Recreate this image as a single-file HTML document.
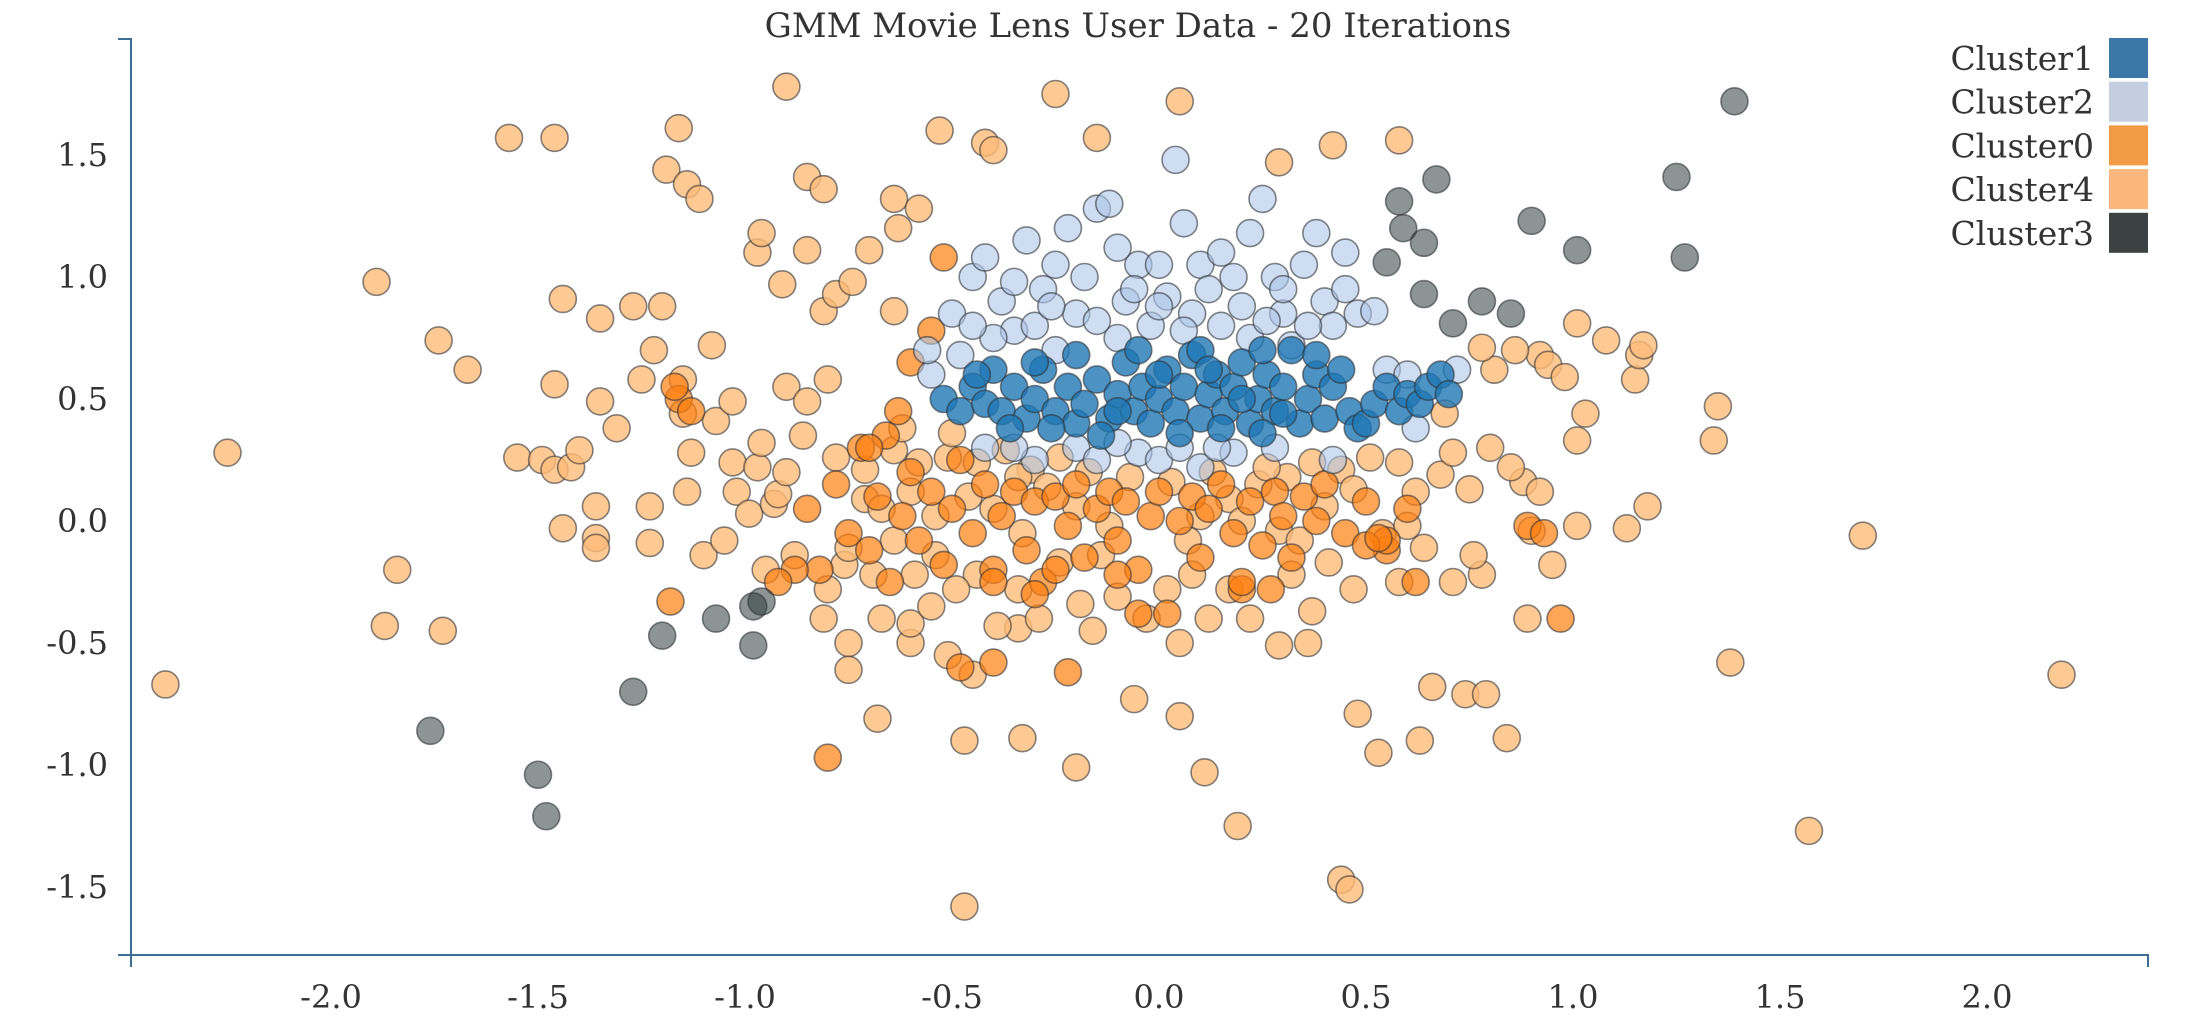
<!DOCTYPE html>
<html><head><meta charset="utf-8">
<style>
html,body{margin:0;padding:0;background:#fff;}
svg{display:block;}
text{font-family:"DejaVu Serif","Liberation Serif",serif;fill:#333;}
</style></head>
<body>
<svg id="chart" width="2196" height="1016">
<text x="1138" y="37" font-size="34" text-anchor="middle">GMM Movie Lens User Data - 20 Iterations</text>
<g id="axes"></g>
<g id="marks"></g>
<g id="legend"></g>
</svg>
<script>
const xTicks = [-2.0,-1.5,-1.0,-0.5,0.0,0.5,1.0,1.5,2.0];
const yTicks = [1.5,1.0,0.5,0.0,-0.5,-1.0,-1.5];
const legendLabels = ["Cluster1","Cluster2","Cluster0","Cluster4","Cluster3"];
const cluster3 = [[1.39,1.72],[0.67,1.40],[0.58,1.31],[0.59,1.20],[0.64,1.14],[0.55,1.06],[1.25,1.41],[1.27,1.08],[0.90,1.23],[1.01,1.11],[0.64,0.93],[0.78,0.90],[0.85,0.85],[0.71,0.81],[-1.20,-0.47],[-1.07,-0.40],[-0.98,-0.35],[-0.96,-0.33],[-0.98,-0.51],[-1.27,-0.70],[-1.76,-0.86],[-1.50,-1.04],[-1.48,-1.21]];
const cluster4 = [[-2.40,-0.67],[-2.25,0.28],[-1.89,0.98],[-1.87,-0.43],[-1.84,-0.20],[-1.74,0.74],[-1.73,-0.45],[-1.67,0.62],[-1.57,1.57],[-1.55,0.26],[-1.49,0.25],[-1.46,0.21],[-1.46,1.57],[-1.44,0.91],[-1.46,0.56],[-1.44,-0.03],[-1.42,0.22],[-1.40,0.29],[-1.35,0.83],[-1.35,0.49],[-1.36,0.06],[-1.36,-0.07],[-1.36,-0.11],[-1.31,0.38],[-1.27,0.88],[-1.25,0.58],[-1.23,0.06],[-1.23,-0.09],[-1.22,0.70],[-1.20,0.88],[-1.19,1.44],[-1.16,1.61],[-1.15,0.58],[-1.14,1.38],[-1.15,0.44],[-1.14,0.12],[-1.13,0.28],[-1.11,1.32],[-1.10,-0.14],[-1.08,0.72],[-1.07,0.41],[-1.05,-0.08],[-1.03,0.24],[-1.02,0.12],[-1.03,0.49],[-0.99,0.03],[-0.97,0.22],[-0.97,1.10],[-0.96,1.18],[-0.96,0.32],[-0.95,-0.20],[-0.93,0.07],[-0.92,0.11],[-0.91,0.97],[-0.90,1.78],[-0.90,0.55],[-0.88,-0.14],[-0.85,1.11],[-0.85,0.49],[-0.85,1.41],[-0.81,1.36],[-0.81,0.86],[-0.80,0.58],[-0.78,0.93],[-0.76,-0.18],[-0.75,-0.50],[-0.75,-0.61],[-0.74,0.98],[-0.71,0.09],[-0.70,1.11],[-0.68,-0.81],[-0.67,-0.40],[-0.64,0.86],[-0.64,1.32],[-0.63,1.20],[-0.60,-0.50],[-0.60,-0.42],[-0.58,1.28],[-0.53,1.60],[-0.51,-0.55],[-0.47,-1.58],[-0.47,-0.90],[-0.45,-0.63],[-0.42,1.55],[-0.40,1.52],[-0.34,-0.44],[-0.33,-0.89],[-0.25,1.75],[-0.20,-1.01],[-0.15,1.57],[-0.06,-0.73],[0.05,1.72],[0.05,-0.80],[0.08,-0.22],[0.11,-1.03],[0.19,-1.25],[0.29,1.47],[0.29,-0.51],[0.42,1.54],[0.44,-1.47],[0.46,-1.51],[0.48,-0.79],[0.53,-0.95],[0.58,1.56],[0.63,-0.90],[0.66,-0.68],[0.74,-0.71],[0.79,-0.71],[0.84,-0.89],[0.89,-0.40],[0.90,-0.04],[0.92,0.68],[0.94,0.64],[0.95,-0.18],[0.98,0.59],[1.01,0.33],[1.01,-0.02],[1.01,0.81],[1.03,0.44],[1.08,0.74],[1.13,-0.03],[1.15,0.58],[1.16,0.68],[1.17,0.72],[1.18,0.06],[1.35,0.47],[1.34,0.33],[1.38,-0.58],[1.70,-0.06],[1.57,-1.27],[2.18,-0.63],[0.88,0.16],[0.92,0.12],[0.85,0.22],[0.80,0.30],[0.75,0.13],[0.68,0.19],[0.71,0.28],[0.81,0.62],[0.86,0.70],[0.78,0.71],[0.69,0.44],[0.78,-0.22],[0.71,-0.25],[0.76,-0.14],[0.64,-0.11],[0.58,-0.25],[0.54,-0.05],[0.47,-0.28],[0.41,-0.17],[0.37,-0.37],[0.32,-0.22],[0.29,-0.04],[0.22,-0.40],[0.17,-0.28],[0.12,-0.40],[0.07,-0.08],[0.02,-0.28],[-0.03,-0.40],[-0.10,-0.31],[-0.14,-0.14],[-0.19,-0.34],[-0.24,-0.17],[-0.29,-0.40],[-0.34,-0.28],[-0.39,-0.43],[-0.44,-0.22],[-0.49,-0.28],[-0.54,-0.14],[-0.59,-0.22],[-0.64,-0.08],[-0.69,-0.22],[-0.75,-0.11],[-0.80,-0.28],[-0.81,-0.40],[-0.44,0.24],[-0.37,0.29],[-0.31,0.21],[-0.24,0.26],[-0.51,0.26],[-0.58,0.24],[-0.64,0.29],[-0.71,0.21],[-0.78,0.26],[0.17,0.09],[0.24,0.15],[0.31,0.18],[0.37,0.24],[0.44,0.21],[0.51,0.26],[0.58,0.24],[-0.34,0.18],[-0.27,0.14],[-0.17,0.2],[-0.07,0.18],[0.03,0.16],[0.13,0.2],[0.26,0.22],[0.4,0.06],[0.47,0.13],[-0.6,0.12],[-0.67,0.05],[-0.54,0.02],[-0.46,0.1],[-0.4,0.05],[-0.2,0.06],[0.1,0.02],[0.34,-0.08],[-0.62,0.38],[-0.5,0.36],[0.62,0.12],[0.6,-0.02],[-0.33,-0.05],[-0.12,-0.02],[0.2,0.0],[-0.86,0.35],[-0.9,0.2],[-0.16,-0.45],[0.05,-0.5],[0.36,-0.5],[-0.55,-0.35]];
const cluster0 = [[-0.85,0.05],[-0.82,-0.2],[-0.78,0.15],[-0.75,-0.05],[-0.72,0.3],[-0.7,-0.12],[-0.68,0.1],[-0.65,-0.25],[-0.62,0.02],[-0.6,0.2],[-0.58,-0.08],[-0.55,0.12],[-0.52,-0.18],[-0.5,0.05],[-0.48,0.25],[-0.45,-0.05],[-0.42,0.15],[-0.4,-0.2],[-0.38,0.02],[-0.35,0.12],[-0.32,-0.12],[-0.3,0.08],[-0.28,-0.25],[-0.25,0.1],[-0.22,-0.02],[-0.2,0.15],[-0.18,-0.15],[-0.15,0.05],[-0.12,0.12],[-0.1,-0.08],[-0.08,0.08],[-0.05,-0.2],[-0.02,0.02],[0.0,0.12],[0.02,-0.38],[0.05,0.0],[0.08,0.1],[0.1,-0.15],[0.12,0.05],[0.15,0.15],[0.18,-0.05],[0.2,-0.28],[0.22,0.08],[0.25,-0.1],[0.28,0.12],[0.3,0.02],[0.32,-0.15],[0.35,0.1],[0.38,0.0],[0.4,0.15],[0.45,-0.05],[0.5,0.08],[0.55,-0.12],[0.6,0.05],[0.62,-0.25],[0.55,-0.08],[0.89,-0.02],[0.93,-0.05],[0.97,-0.4],[-0.8,-0.97],[-1.18,-0.33],[-1.16,0.5],[-1.17,0.55],[-1.13,0.45],[-0.52,1.08],[-0.55,0.78],[-0.6,0.65],[-0.63,0.45],[-0.66,0.35],[-0.7,0.3],[-0.88,-0.2],[-0.92,-0.25],[-0.4,-0.25],[-0.3,-0.3],[-0.1,-0.22],[-0.05,-0.38],[0.2,-0.25],[0.27,-0.28],[-0.22,-0.62],[0.5,-0.1],[0.53,-0.07],[-0.4,-0.58],[-0.48,-0.6],[-0.25,-0.2]];
const cluster2 = [[-0.5,0.85],[-0.45,1.0],[-0.42,1.08],[-0.38,0.9],[-0.35,0.78],[-0.32,1.15],[-0.28,0.95],[-0.25,0.7],[-0.22,1.2],[-0.2,0.85],[-0.18,1.0],[-0.15,1.28],[-0.12,1.3],[-0.1,0.75],[-0.08,0.9],[-0.05,1.05],[-0.02,0.8],[0.0,1.05],[0.02,0.92],[0.04,1.48],[0.06,1.22],[0.08,0.85],[0.1,1.05],[0.12,0.95],[0.15,0.8],[0.18,1.0],[0.2,0.88],[0.22,0.75],[0.25,1.32],[0.28,1.0],[0.3,0.85],[0.32,0.72],[0.35,1.05],[0.38,1.18],[0.4,0.9],[0.42,0.8],[0.45,1.1],[0.48,0.85],[0.52,0.86],[0.55,0.62],[0.6,0.6],[0.72,0.62],[-0.55,0.6],[-0.48,0.68],[-0.4,0.75],[-0.3,0.8],[-0.2,0.3],[-0.15,0.25],[-0.05,0.28],[0.0,0.25],[0.05,0.3],[0.1,0.22],[0.18,0.28],[-0.3,0.25],[-0.42,0.3],[-0.25,1.05],[-0.35,0.98],[0.0,0.88],[0.15,1.1],[0.3,0.95],[0.45,0.95],[-0.06,0.95],[0.22,1.18],[-0.45,0.8],[-0.56,0.7],[0.62,0.38],[0.42,0.25],[-0.15,0.82],[0.06,0.78],[0.26,0.82],[0.36,0.8],[-0.26,0.88],[-0.1,1.12],[0.14,0.3],[0.28,0.3],[-0.1,0.32],[-0.35,0.3]];
const cluster1 = [[-0.52,0.5],[-0.48,0.45],[-0.45,0.55],[-0.42,0.48],[-0.4,0.62],[-0.38,0.45],[-0.35,0.55],[-0.32,0.42],[-0.3,0.5],[-0.28,0.62],[-0.25,0.45],[-0.22,0.55],[-0.2,0.4],[-0.18,0.48],[-0.15,0.58],[-0.12,0.42],[-0.1,0.52],[-0.08,0.65],[-0.06,0.45],[-0.04,0.55],[-0.02,0.4],[0.0,0.5],[0.02,0.62],[0.04,0.45],[0.06,0.55],[0.08,0.68],[0.1,0.42],[0.12,0.52],[0.14,0.6],[0.16,0.45],[0.18,0.55],[0.2,0.65],[0.22,0.4],[0.24,0.5],[0.26,0.6],[0.28,0.45],[0.3,0.55],[0.32,0.7],[0.34,0.4],[0.36,0.5],[0.38,0.6],[0.4,0.42],[0.42,0.55],[0.44,0.62],[0.46,0.45],[0.48,0.38],[0.5,0.4],[0.52,0.48],[0.55,0.55],[0.58,0.45],[0.6,0.52],[0.63,0.48],[0.65,0.55],[0.68,0.6],[0.7,0.52],[-0.36,0.38],[-0.26,0.38],[-0.14,0.35],[0.05,0.36],[0.15,0.38],[0.25,0.36],[-0.3,0.65],[-0.2,0.68],[-0.05,0.7],[0.1,0.7],[0.25,0.7],[0.38,0.68],[-0.44,0.6],[0.0,0.6],[0.2,0.5],[-0.1,0.45],[0.12,0.62],[0.3,0.44]];

const NS = "http://www.w3.org/2000/svg";
const X0 = 1159, XS = 414, Y0 = 521, YS = 244;
function sx(v){ return X0 + v*XS; }
function sy(v){ return Y0 - v*YS; }
function mk(tag, attrs, parent){ const e=document.createElementNS(NS,tag); for(const k in attrs) e.setAttribute(k,attrs[k]); parent.appendChild(e); return e; }

const axes = document.getElementById('axes');
const yAxis = mk('path',{d:'M118,39H131V967',fill:'none',stroke:'#3d6f96','stroke-width':2},axes);


const xAxis = mk('path',{d:'M118,955H2148V967',fill:'none',stroke:'#3d6f96','stroke-width':2},axes);


xTicks.forEach(t=>{
  const el = mk('text',{x:sx(t),y:1008,'font-size':32,'text-anchor':'middle'},axes);
  el.textContent = t.toFixed(1);
  
  
});
yTicks.forEach(t=>{
  const el = mk('text',{x:108,y:sy(t)+11,'font-size':32,'text-anchor':'end'},axes);
  el.textContent = t.toFixed(1);
  
  
});

const marks = document.getElementById('marks');
function drawSeries(data, fill, op, name){
  const g = mk('g',{},marks);
  
  
  data.forEach(d=>{
    const c = mk('circle',{cx:sx(d[0]),cy:sy(d[1]),r:13.5,fill:fill,'fill-opacity':op,stroke:'#2f3438','stroke-opacity':0.6,'stroke-width':1.6},g);
    
    
  });
}
drawSeries(cluster4,'#ffbb78',0.8,'cluster4');
drawSeries(cluster0,'#ff7f0e',0.7,'cluster0');
drawSeries(cluster2,'#aec7e8',0.6,'cluster2');
drawSeries(cluster3,'#2f3d3d',0.55,'cluster3');
drawSeries(cluster1,'#1f77b4',0.8,'cluster1');

const legend = document.getElementById('legend');
const legendColors = ['#3b78a8','#c3cfe0','#f39a45','#fbb67d','#3c4242'];
legendLabels.forEach((lab,i)=>{
  const y = 38 + i*43.7;
  const g = mk('g',{},legend);
  
  
  const r = mk('rect',{x:2109,y:y,width:39,height:40,fill:legendColors[i]},g);
  
  
  const t = mk('text',{x:2094,y:y+32,'font-size':33,'text-anchor':'end'},g);
  t.textContent = lab;
  
  
});
</script>
</body></html>
